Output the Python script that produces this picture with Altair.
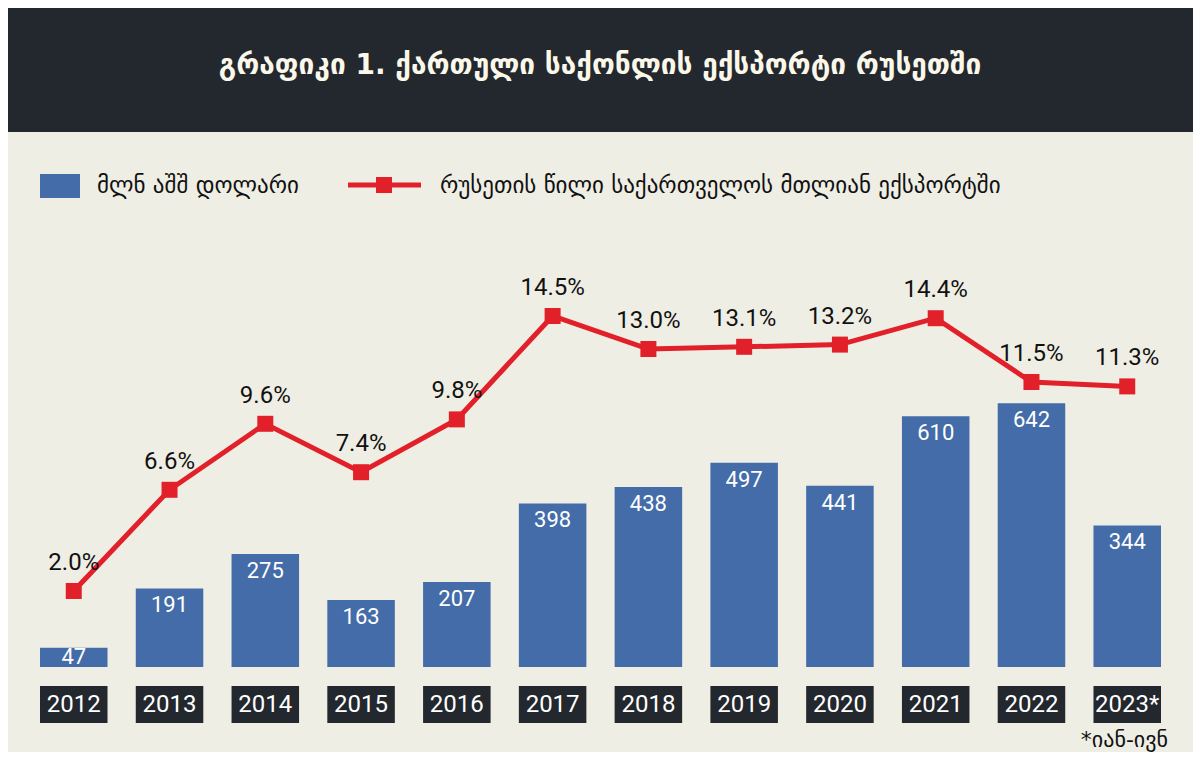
import altair as alt
import pandas as pd

# ---- data ----
years = ["2012", "2013", "2014", "2015", "2016", "2017", "2018", "2019", "2020", "2021", "2022", "2023*"]
exports_musd = [47, 191, 275, 163, 207, 398, 438, 497, 441, 610, 642, 344]
russia_share = [2.0, 6.6, 9.6, 7.4, 9.8, 14.5, 13.0, 13.1, 13.2, 14.4, 11.5, 11.3]

title_text = "გრაფიკი 1. ქართული საქონლის ექსპორტი რუსეთში"
legend_bar = "მლნ აშშ დოლარი"
legend_line = "რუსეთის წილი საქართველოს მთლიან ექსპორტში"
footnote = "*იან-ივნ"

# ---- styling ----
W, H = 1185, 744
BG = "#efeee4"
DARK = "#23272e"
BLUE = "#436ca9"
RED = "#e2202a"
NUM_FONT = "Roboto, 'DejaVu Sans'"
GEO_FONT = "'DejaVu Sans', Roboto"

df = pd.DataFrame({"year": years, "value": exports_musd, "share": russia_share})
df["share_lbl"] = [f"{s:.1f}%" for s in russia_share]

xs = alt.Scale(domain=years, range=[32, 1153], paddingInner=0.295, paddingOuter=0)
x = alt.X("year:N", scale=xs, axis=None, sort=None)

ybar = alt.Scale(domain=[0, 1000], range=[659, 248], zero=True, nice=False)
yline = alt.Scale(domain=[0, 20], range=[627, 187], zero=True, nice=False)

base = alt.Chart(df)

bars = base.mark_bar(color=BLUE).encode(
    x=x, y=alt.Y("value:Q", scale=ybar, axis=None)
)

bar_labels = base.transform_calculate(
    lab="max(datum.value - 41, datum.value / 2)"
).mark_text(color="white", font=NUM_FONT, fontSize=22, baseline="middle").encode(
    x=x, y=alt.Y("lab:Q", scale=ybar, axis=None), text="value:Q"
)

line = base.mark_line(color=RED, strokeWidth=5).encode(
    x=x, y=alt.Y("share:Q", scale=yline, axis=None)
)
points = base.mark_point(shape="square", filled=True, size=256, color=RED, opacity=1).encode(
    x=x, y=alt.Y("share:Q", scale=yline, axis=None)
)
pct_labels = base.mark_text(color="#111111", font=NUM_FONT, fontSize=24, baseline="middle", dy=-28).encode(
    x=x, y=alt.Y("share:Q", scale=yline, axis=None), text="share_lbl:N"
)

year_boxes = base.mark_bar(color=DARK).encode(
    x=x, y=alt.value(678), y2=alt.value(715)
)
year_text = base.mark_text(color="white", font=NUM_FONT, fontSize=24, baseline="middle").encode(
    x=x, y=alt.value(697), text="year:N"
)

one = alt.Chart(pd.DataFrame({"k": [0]}))

header = one.mark_rect(color=DARK).encode(
    x=alt.value(0), x2=alt.value(W), y=alt.value(0), y2=alt.value(124)
)
title = alt.Chart(pd.DataFrame({"t": [title_text]})).mark_text(
    color="#fbf8ea", font=GEO_FONT, fontSize=28, fontWeight="bold", baseline="middle", align="center"
).encode(x=alt.value(592), y=alt.value(58), text="t:N")

leg_rect = one.mark_rect(color=BLUE).encode(
    x=alt.value(32), x2=alt.value(72), y=alt.value(166), y2=alt.value(190)
)
leg_t1 = alt.Chart(pd.DataFrame({"t": [legend_bar]})).mark_text(
    color="#111111", font=GEO_FONT, fontSize=23, baseline="middle", align="left"
).encode(x=alt.value(89), y=alt.value(178), text="t:N")
leg_line = one.mark_rule(color=RED, strokeWidth=5).encode(
    x=alt.value(340), x2=alt.value(413), y=alt.value(177)
)
leg_sq = one.mark_point(shape="square", filled=True, size=256, color=RED, opacity=1).encode(
    x=alt.value(376), y=alt.value(177)
)
leg_t2 = alt.Chart(pd.DataFrame({"t": [legend_line]})).mark_text(
    color="#111111", font=GEO_FONT, fontSize=23, baseline="middle", align="left"
).encode(x=alt.value(432), y=alt.value(178), text="t:N")

foot = alt.Chart(pd.DataFrame({"t": [footnote]})).mark_text(
    color="#111111", font=GEO_FONT, fontSize=22, baseline="middle", align="right"
).encode(x=alt.value(1160), y=alt.value(732), text="t:N")

chart = alt.layer(
    header, title, leg_rect, leg_t1, leg_line, leg_sq, leg_t2,
    bars, bar_labels, year_boxes, year_text, line, points, pct_labels, foot
).resolve_scale(y="independent").properties(
    width=W, height=H, padding=0,
    autosize=alt.AutoSizeParams(type="none"),
).configure(background=BG).configure_view(strokeWidth=0)

chart.save("out.html", embed_options={"renderer": "svg", "actions": False})
